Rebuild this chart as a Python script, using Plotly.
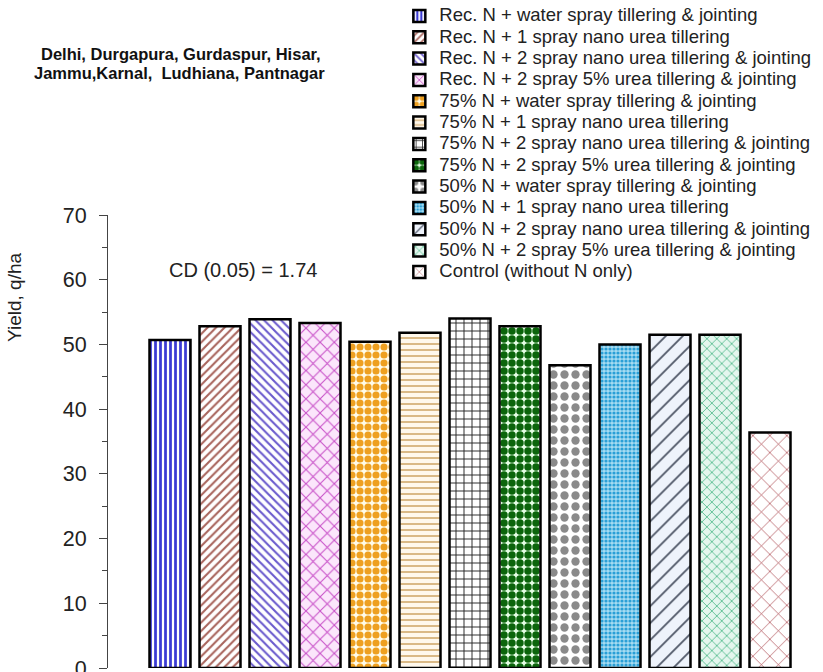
import plotly.graph_objects as go

# Treatments (legend order) and mean grain yield, q/ha
treatments = [
    "Rec. N + water spray tillering & jointing",
    "Rec. N + 1 spray nano urea tillering",
    "Rec. N + 2 spray nano urea tillering & jointing",
    "Rec. N + 2 spray 5% urea tillering & jointing",
    "75% N + water spray tillering & jointing",
    "75% N + 1 spray nano urea tillering",
    "75% N + 2 spray nano urea tillering & jointing",
    "75% N + 2 spray 5% urea tillering & jointing",
    "50% N + water spray tillering & jointing",
    "50% N + 1 spray nano urea tillering",
    "50% N + 2 spray nano urea tillering & jointing",
    "50% N + 2 spray 5% urea tillering & jointing",
    "Control (without N only)",
]
yield_qha = [50.7, 52.8, 53.9, 53.3, 50.4, 51.8, 54.0, 52.8, 46.8, 50.0, 51.5, 51.5, 36.4]

y_ticks = [0, 10, 20, 30, 40, 50, 60, 70]
locations_line1 = "Delhi, Durgapura, Gurdaspur, Hisar,"
locations_line2 = "Jammu,Karnal,  Ludhiana, Pantnagar"
cd_label = "CD (0.05) = 1.74"

# Fill pattern per treatment: (shape, foreground, background, size, solidity)
patterns = [
    ("|", "#3b3bd4", "#ffffff", 5, 0.55),
    ("/", "#a8645c", "#ffffff", 6, 0.35),
    ("\\", "#6a5acd", "#ffffff", 6, 0.35),
    ("x", "#c850c8", "#fbe6fb", 10, 0.2),
    (".", "#eea020", "#fffbe8", 8, 0.62),
    ("-", "#d6b27a", "#fff8ec", 6, 0.3),
    ("+", "#222222", "#ffffff", 8, 0.22),
    (".", "#0b650b", "#e6ffe6", 8, 0.68),
    (".", "#8a8a8a", "#ffffff", 11, 0.45),
    (".", "#2a9fd6", "#a6dcf2", 4, 0.5),
    ("/", "#505868", "#eef3fb", 12, 0.15),
    ("x", "#5fbf95", "#e4f6ee", 7, 0.25),
    ("x", "#a03038", "#ffffff", 12, 0.1),
]

FONT = "Liberation Sans, Arial, sans-serif"

fig = go.Figure()
for i, (name, val, pat) in enumerate(zip(treatments, yield_qha, patterns)):
    shape, fg, bg, size, solid = pat
    fig.add_trace(go.Bar(
        x=[i], y=[val],
        name=f"<span style='font-size:18.5px'>{name}</span>",
        width=0.82,
        marker=dict(
            color=bg,
            line=dict(color="#000000", width=2.5),
            pattern=dict(shape=shape, fgcolor=fg, bgcolor=bg, size=size,
                         solidity=solid, fillmode="replace"),
        ),
    ))

fig.update_layout(
    width=823, height=672,
    margin=dict(l=108, r=13, t=215, b=4, autoexpand=False),
    plot_bgcolor="white", paper_bgcolor="white",
    barmode="overlay",
    font=dict(family=FONT, color="#222222"),
    showlegend=True,
    legend=dict(
        x=0.415, y=1.474, xanchor="left", yanchor="top",
        font=dict(size=14.1, family=FONT, color="#222222"),
        bgcolor="rgba(0,0,0,0)", borderwidth=0,
        itemclick=False,
    ),
    xaxis=dict(range=[-1.24, 12.8], showticklabels=False, showline=False,
               showgrid=False, zeroline=False, ticks="", automargin=False),
    yaxis=dict(range=[0, 70], tickvals=y_ticks, showgrid=False, zeroline=False,
               showline=True, linecolor="#444444", linewidth=1,
               ticks="outside", ticklen=8, tickcolor="#444444",
               tickfont=dict(size=21.5, family=FONT, color="#222222"),
               ticklabelstandoff=8, ticklabeloverflow="allow", automargin=False,
               minor=dict(dtick=5, ticks="outside", ticklen=5, tickcolor="#444444")),
)

# location header, rotated axis title and the critical-difference note
fig.add_annotation(text=f"<b>{locations_line1}</b>", xref="paper", yref="paper",
                   x=(181 - 108) / 702, y=(668 - 54) / 453, showarrow=False,
                   xanchor="center", yanchor="middle",
                   font=dict(size=16.5, family=FONT, color="#111111"))
fig.add_annotation(text=f"<b>{locations_line2}</b>", xref="paper", yref="paper",
                   x=(179 - 108) / 702, y=(668 - 73) / 453, showarrow=False,
                   xanchor="center", yanchor="middle",
                   font=dict(size=16.5, family=FONT, color="#111111"))
fig.add_annotation(text="Yield, q/ha", xref="paper", yref="paper",
                   x=(14 - 108) / 702, y=(668 - 297) / 453, textangle=-90,
                   xanchor="center", yanchor="middle",
                   showarrow=False, font=dict(size=19, family=FONT, color="#222222"))
fig.add_annotation(text=cd_label, xref="x", yref="y", x=1.46, y=61.5,
                   showarrow=False, font=dict(size=20, family=FONT, color="#222222"))

fig.write_html("out.html")
